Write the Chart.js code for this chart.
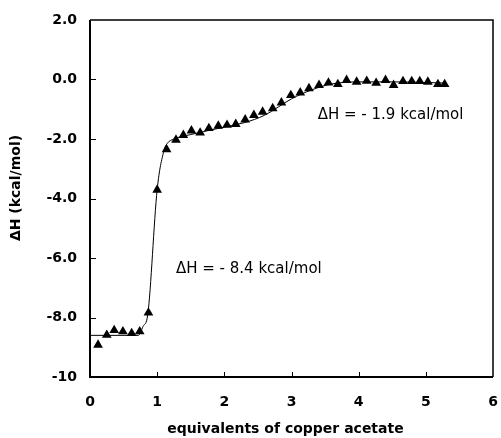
<!DOCTYPE html>
<html>
<head>
<meta charset="utf-8">
<script src="https://cdn.jsdelivr.net/npm/chart.js@4.4.1/dist/chart.umd.min.js"></script>
<style>
  html, body { margin: 0; padding: 0; background: #fff; }
  canvas { display: block; }
</style>
</head>
<body>
<canvas id="c" width="501" height="438"></canvas>
<script>
// measured points (equivalents, kcal/mol)
const eqX = [0.12, 0.25, 0.36, 0.49, 0.62, 0.74, 0.87, 1.0, 1.14, 1.28, 1.39, 1.51, 1.64, 1.77, 1.91, 2.04,
  2.17, 2.31, 2.44, 2.57, 2.72, 2.85, 2.99, 3.13, 3.26, 3.41, 3.55, 3.69, 3.82, 3.97, 4.12, 4.26, 4.40,
  4.52, 4.66, 4.79, 4.91, 5.03, 5.18, 5.28];
const dH = [-8.92, -8.59, -8.43, -8.47, -8.53, -8.47, -7.84, -3.71, -2.35, -2.03, -1.87, -1.72, -1.79, -1.64,
  -1.56, -1.53, -1.50, -1.35, -1.20, -1.09, -0.97, -0.78, -0.53, -0.44, -0.30, -0.19, -0.11, -0.16, -0.02,
  -0.08, -0.05, -0.12, -0.02, -0.19, -0.06, -0.06, -0.06, -0.08, -0.16, -0.16];

// fitted curve
const fitX = [0, 0.72, 0.79, 0.86, 1.0, 1.1, 1.15, 1.25, 1.5, 2.0, 2.3, 2.6, 3.0, 3.3, 3.6, 4.0, 4.5, 5.0, 5.28];
const fitY = [-8.6, -8.6, -8.3, -7.9, -3.7, -2.4, -2.15, -2.0, -1.85, -1.6, -1.45, -1.2, -0.65, -0.35, -0.15, -0.08, -0.08, -0.1, -0.12];

const yTickValues = [-10, -8, -6, -4, -2, 0, 2];
const yTickLabels = ['-10', '-8.0', '-6.0', '-4.0', '-2.0', '0.0', '2.0'];
const xTickValues = [0, 1, 2, 3, 4, 5, 6];
const xTickLabels = ['0', '1', '2', '3', '4', '5', '6'];

const notes = [
  { text: 'ΔH = - 1.9 kcal/mol', x: 3.39, y: -1.33 },
  { text: 'ΔH = - 8.4 kcal/mol', x: 1.28, y: -6.52 }
];

const FONT = 'DejaVu Sans';

const framePlugin = {
  id: 'frame',
  afterDraw(chart) {
    const ctx = chart.ctx;
    const a = chart.chartArea;
    const xs = chart.scales.x, ys = chart.scales.y;
    ctx.save();
    ctx.strokeStyle = '#000';
    ctx.lineWidth = 1.5;
    ctx.beginPath();
    ctx.moveTo(a.left, a.top); ctx.lineTo(a.right, a.top); ctx.lineTo(a.right, a.bottom);
    ctx.stroke();
    ctx.lineWidth = 2;
    ctx.beginPath();
    ctx.moveTo(a.left, a.top); ctx.lineTo(a.left, a.bottom); ctx.lineTo(a.right, a.bottom);
    ctx.stroke();
    // inward ticks
    ctx.lineWidth = 1;
    ctx.beginPath();
    yTickValues.slice(1, -1).forEach(v => {
      const py = Math.round(ys.getPixelForValue(v)) + 0.5;
      ctx.moveTo(a.left, py); ctx.lineTo(a.left + 6, py);
    });
    xTickValues.slice(1, -1).forEach(v => {
      const px = Math.round(xs.getPixelForValue(v)) + 0.5;
      ctx.moveTo(px, a.bottom); ctx.lineTo(px, a.bottom - 5);
    });
    ctx.stroke();

    ctx.fillStyle = '#000';
    ctx.font = '15px "' + FONT + '"';
    ctx.textBaseline = 'alphabetic';
    ctx.textAlign = 'left';
    notes.forEach(n => {
      ctx.fillText(n.text, xs.getPixelForValue(n.x), ys.getPixelForValue(n.y));
    });

    ctx.font = 'bold 14px "' + FONT + '"';
    ctx.textAlign = 'center';
    ctx.fillText('equivalents of copper acetate', (a.left + a.right) / 2 - 6, 433);
    ctx.save();
    ctx.translate(20, 188);
    ctx.rotate(-Math.PI / 2);
    ctx.fillText('ΔH (kcal/mol)', 0, 0);
    ctx.restore();
    ctx.restore();
  }
};

new Chart(document.getElementById('c'), {
  type: 'scatter',
  data: {
    datasets: [
      {
        label: 'data',
        data: eqX.map((x, i) => ({ x, y: dH[i] })),
        pointStyle: 'triangle',
        pointRadius: 5.6,
        pointBackgroundColor: '#000',
        pointBorderColor: '#000',
        pointBorderWidth: 0,
        showLine: false
      },
      {
        label: 'fit',
        type: 'line',
        data: fitX.map((x, i) => ({ x, y: fitY[i] })),
        borderColor: '#000',
        borderWidth: 1,
        pointRadius: 0,
        cubicInterpolationMode: 'monotone',
        fill: false
      }
    ]
  },
  options: {
    responsive: false,
    animation: false,
    events: [],
    layout: { padding: { top: 20, right: 8, left: 0, bottom: 0 } },
    plugins: { legend: { display: false }, tooltip: { enabled: false } },
    scales: {
      x: {
        type: 'linear',
        min: 0, max: 6,
        afterFit(s) { s.height = 61; s.paddingLeft = 0; s.paddingRight = 0; },
        afterBuildTicks(s) { s.ticks = xTickValues.map(v => ({ value: v })); },
        ticks: {
          padding: 17,
          color: '#000',
          font: { family: FONT, size: 14, weight: 'bold' },
          callback: v => xTickLabels[xTickValues.indexOf(v)]
        },
        grid: { display: false, drawTicks: false },
        border: { display: false }
      },
      y: {
        type: 'linear',
        min: -10, max: 2,
        afterFit(s) { s.width = 90; s.paddingTop = 0; s.paddingBottom = 0; },
        afterBuildTicks(s) { s.ticks = yTickValues.map(v => ({ value: v })); },
        ticks: {
          padding: 13,
          color: '#000',
          font: { family: FONT, size: 14, weight: 'bold' },
          callback: v => yTickLabels[yTickValues.indexOf(v)]
        },
        grid: { display: false, drawTicks: false },
        border: { display: false }
      }
    }
  },
  plugins: [framePlugin]
});
</script>
</body>
</html>
